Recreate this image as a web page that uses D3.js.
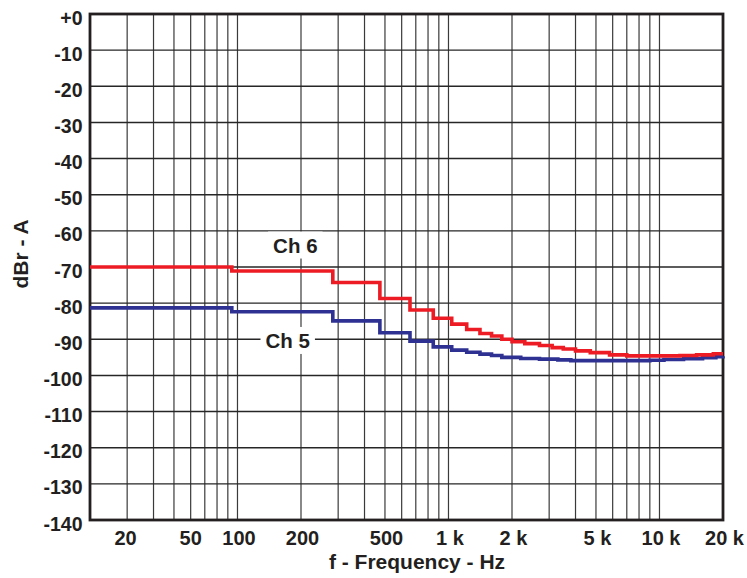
<!DOCTYPE html>
<html>
<head>
<meta charset="utf-8">
<script src="https://cdn.jsdelivr.net/npm/d3@7"></script>
<style>
    body { margin: 0; background: #fff; }
    text { font-family: "Liberation Sans", Arial, sans-serif; font-weight: bold; fill: #231f20; }
</style>
</head>
<body>
<svg id="chart" width="747" height="578"></svg>
<script>

// Ch 6 (red) - step levels, each value starts at the given frequency
var ch6Freq = [20, 94, 283, 473, 657, 847, 1036, 1220, 1410, 1600, 1790, 2000, 2300, 2700, 3100, 3500, 4000, 4700, 5800, 7000, 12500, 15000, 18000, 20000];
var ch6Db   = [-70.0, -71.1, -74.3, -78.7, -81.9, -84.2, -85.8, -87.3, -88.4, -89.1, -90.0, -90.7, -91.2, -91.7, -92.3, -92.7, -93.2, -93.7, -94.3, -94.6, -94.5, -94.3, -94.0, -94.0];

// Ch 5 (blue)
var ch5Freq = [20, 94, 283, 473, 657, 847, 1036, 1220, 1410, 1600, 1790, 2200, 2700, 3300, 3800, 9000, 10500, 13000, 16000, 18500, 20000];
var ch5Db   = [-81.3, -82.4, -84.9, -88.2, -90.5, -92.1, -93.0, -93.6, -94.1, -94.5, -95.0, -95.3, -95.5, -95.7, -95.9, -95.8, -95.6, -95.4, -95.1, -94.8, -94.7];

var gridFreq = [30, 40, 50, 60, 70, 80, 90, 100, 200, 300, 400, 500, 600, 700, 800, 900, 1000,
                2000, 3000, 4000, 5000, 6000, 7000, 8000, 9000, 10000];
// tick labels as they sit on the original sheet
var xLabelFreq = [29, 59, 100, 200, 500, 1000, 2000, 5000, 10000, 20000];
var xLabelText = ["20", "50", "100", "200", "500", "1 k", "2 k", "5 k", "10 k", "20 k"];
var yTicks = [0, -10, -20, -30, -40, -50, -60, -70, -80, -90, -100, -110, -120, -130, -140];

var MARGIN = {left: 90, top: 14, right: 24, bottom: 58};
var WIDTH = 747 - MARGIN.left - MARGIN.right;
var HEIGHT = 578 - MARGIN.top - MARGIN.bottom;

var svg = d3.select("#chart");
var g = svg.append("g").attr("transform", "translate(" + MARGIN.left + "," + MARGIN.top + ")");

var xScale = d3.scaleLog().domain([20, 20000]).range([0, WIDTH]);
var yScale = d3.scaleLinear().domain([-140, 0]).range([HEIGHT, 0]);

// grid
g.append("g").selectAll("line").data(gridFreq).enter().append("line")
    .attr("x1", function(d){return xScale(d)}).attr("x2", function(d){return xScale(d)})
    .attr("y1", 0).attr("y2", HEIGHT)
    .attr("stroke", "#3a3a3a").attr("stroke-width", 1.2);
g.append("g").selectAll("line").data(yTicks).enter().append("line")
    .attr("x1", 0).attr("x2", WIDTH)
    .attr("y1", function(d){return yScale(d)}).attr("y2", function(d){return yScale(d)})
    .attr("stroke", "#262626").attr("stroke-width", 1.4);

// axes (labels only)
var xAxis = g.append("g").attr("transform", "translate(0," + HEIGHT + ")")
    .call(d3.axisBottom(xScale).tickValues(xLabelFreq).tickSize(0).tickPadding(11)
        .tickFormat(function(d, i){return xLabelText[i]}));
xAxis.select(".domain").remove();
xAxis.selectAll("text").attr("font-size", 20).attr("dx", 1)
    .attr("font-family", null).style("fill", "#231f20");

var yAxis = g.append("g")
    .call(d3.axisLeft(yScale).tickValues(yTicks).tickSize(0).tickPadding(7.5)
        .tickFormat(function(d){return d == 0 ? "+0" : d}));
yAxis.select(".domain").remove();
yAxis.selectAll("text").attr("font-size", 19.5).attr("dy", "0.52em")
    .attr("font-family", null).style("fill", "#231f20");

// frame
g.append("rect").attr("width", WIDTH).attr("height", HEIGHT)
    .attr("fill", "none").attr("stroke", "#231f20").attr("stroke-width", 2.8);

// axis titles
svg.append("text").attr("x", 417).attr("y", 569).attr("text-anchor", "middle")
    .attr("font-size", 21).text("f - Frequency - Hz");
svg.append("text").attr("transform", "translate(28,254) rotate(-90)").attr("text-anchor", "middle")
    .attr("font-size", 21).text("dBr - A");

// traces
var line = d3.line()
    .x(function(d){return xScale(d.f)})
    .y(function(d){return yScale(d.db)})
    .curve(d3.curveStepAfter);

function series(freq, db){
    return freq.map(function(f, i){return {f: f, db: db[i]}});
}

g.append("path").datum(series(ch5Freq, ch5Db)).attr("d", line)
    .attr("fill", "none").attr("stroke", "#2e3192").attr("stroke-width", 3.6);
g.append("path").datum(series(ch6Freq, ch6Db)).attr("d", line)
    .attr("fill", "none").attr("stroke", "#ed1c24").attr("stroke-width", 3.6);

// channel labels with white boxes
var labels = [{t: "Ch 6", f: 188, db: -66.0}, {t: "Ch 5", f: 173, db: -92.4}];
labels.forEach(function(l){
    var lg = g.append("g");
    var box = lg.append("rect").attr("fill", "#fff");
    var txt = lg.append("text").attr("x", xScale(l.f)).attr("y", yScale(l.db))
        .attr("text-anchor", "middle").attr("font-size", 20.5).text(l.t);
    var bb = txt.node().getBBox();
    box.attr("x", bb.x - 5).attr("y", bb.y - 2).attr("width", bb.width + 10).attr("height", bb.height + 4);
});

</script>
</body>
</html>
